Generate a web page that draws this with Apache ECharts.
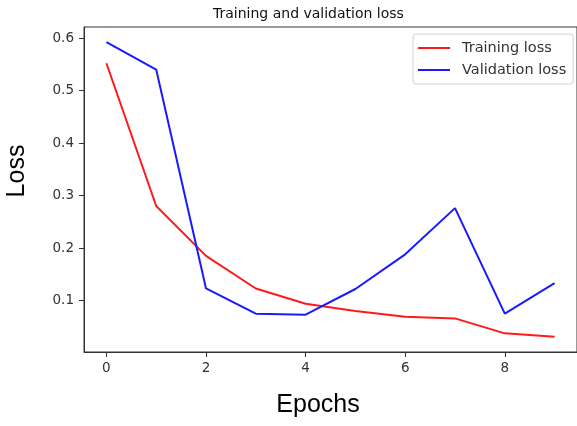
<!DOCTYPE html>
<html>
<head>
<meta charset="utf-8">
<script src="https://cdn.jsdelivr.net/npm/echarts@6/dist/echarts.min.js"></script>
<style>
html,body{margin:0;padding:0;background:#fff;}
#chart{width:577px;height:426px;}
</style>
</head>
<body>
<div id="chart"></div>
<script>
const epochs = [0, 1, 2, 3, 4, 5, 6, 7, 8, 9];
const trainingLoss = [0.552, 0.280, 0.185, 0.123, 0.094, 0.080, 0.069, 0.066, 0.0375, 0.031];
const validationLoss = [0.592, 0.540, 0.123, 0.075, 0.073, 0.122, 0.188, 0.276, 0.075, 0.133];
const xTicks = [0, 2, 4, 6, 8];
const yTicks = [0.1, 0.2, 0.3, 0.4, 0.5, 0.6];

const chart = echarts.init(document.getElementById('chart'), null, {renderer: 'canvas'});
const pairs = (ys) => epochs.map((x, i) => [x, ys[i]]);
const tickFont = {fontFamily: 'DejaVu Sans', fontSize: 13.5, color: '#333'};

chart.setOption({
  animation: false,
  backgroundColor: '#fff',
  title: {
    text: 'Training and validation loss',
    left: 208, top: 2,
    textStyle: {fontFamily: 'DejaVu Sans', fontSize: 14, fontWeight: 'normal', color: '#111'}
  },
  legend: {
    left: 413, top: 34, orient: 'vertical',
    padding: [6, 7, 6, 5], itemGap: 6,
    itemWidth: 32, itemHeight: 2, icon: 'rect',
    borderColor: '#d0d0d0', borderWidth: 1, borderRadius: 3,
    textStyle: {fontFamily: 'DejaVu Sans', fontSize: 14.5, color: '#333', lineHeight: 16, padding: [0, 0, 0, 7]},
    data: ['Training loss', 'Validation loss']
  },
  grid: {left: 84, top: 27, bottom: 74, right: -4, show: true, borderColor: '#333', borderWidth: 1, containLabel: false},
  xAxis: {
    type: 'value', min: -0.45, max: 9.45,
    axisLine: {show: true, onZero: false, lineStyle: {color: '#333', width: 1}},
    axisTick: {show: true, length: 5, customValues: xTicks, lineStyle: {color: '#333'}},
    axisLabel: Object.assign({customValues: xTicks, margin: 9}, tickFont),
    splitLine: {show: false}
  },
  yAxis: {
    type: 'value', min: 0.002, max: 0.621,
    axisLine: {show: true, onZero: false, lineStyle: {color: '#333', width: 1}},
    axisTick: {show: true, length: 5, customValues: yTicks, lineStyle: {color: '#333'}},
    axisLabel: Object.assign({customValues: yTicks, margin: 10, formatter: v => v.toFixed(1)}, tickFont),
    splitLine: {show: false}
  },
  graphic: [
    {type: 'text', x: 17, y: 171, rotation: Math.PI / 2,
     style: {text: 'Loss', fontFamily: 'Liberation Sans', fontSize: 25, fill: '#000', align: 'center', verticalAlign: 'middle'}},
    {type: 'text', x: 318, y: 405,
     style: {text: 'Epochs', fontFamily: 'Liberation Sans', fontSize: 25, fill: '#000', align: 'center', verticalAlign: 'middle'}}
  ],
  series: [
    {name: 'Training loss', type: 'line', data: pairs(trainingLoss), symbol: 'none',
     lineStyle: {color: '#ff1a1a', width: 2}, itemStyle: {color: '#ff1a1a'}},
    {name: 'Validation loss', type: 'line', data: pairs(validationLoss), symbol: 'none',
     lineStyle: {color: '#1a1aff', width: 2}, itemStyle: {color: '#1a1aff'}}
  ]
});
</script>
</body>
</html>
